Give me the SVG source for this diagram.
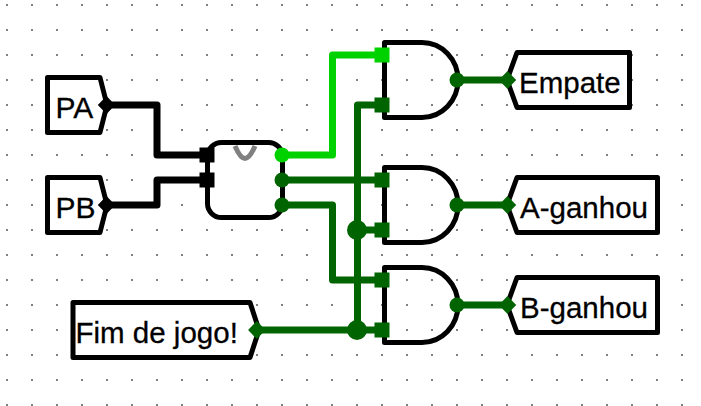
<svg xmlns="http://www.w3.org/2000/svg" width="701" height="406" viewBox="0 0 701 406">
<style>
.box{fill:#fff;stroke:#000;stroke-width:5;stroke-linejoin:round}
.gate{fill:none;stroke:#000;stroke-width:5;stroke-linejoin:round}
.w{fill:none;stroke-width:7;stroke-linejoin:round;stroke-linecap:square}
.k{stroke:#000}.b{stroke:#00d200}.d{stroke:#006400}
.fk{fill:#000}.fb{fill:#00d200}.fd{fill:#006400}
text{font-family:"Liberation Sans",Arial,sans-serif;font-size:29.5px;fill:#000;stroke:#000;stroke-width:.3}
</style>
<defs>
<pattern id="grid" x="6" y="4" width="25" height="25" patternUnits="userSpaceOnUse"><rect width="2" height="2" fill="#808080"/></pattern>
<rect id="pin" x="-7.5" y="-7.5" width="15" height="15"/>
<path id="dia" d="M-8.7 0L0 -9L8.7 0L0 9Z"/>
</defs>
<rect width="701" height="406" fill="#fff"/>
<rect id="dots" width="701" height="406" fill="url(#grid)"/>
<g id="PA"><path class="box" d="M47.5 77.5H100L107 105L100 132.5H47.5Z"/><text x="55.5" y="117.5" style="font-size:30px">PA</text></g>
<g id="PB"><path class="box" d="M47.5 177.5H100L107 205L100 232.5H47.5Z"/><text x="55.5" y="217.5" style="font-size:30px">PB</text></g>
<g id="Fim"><path class="box" d="M73 302.5H250L259 330L250 357.5H73Z"/><text x="75.5" y="342.5">Fim de jogo!</text></g>
<g id="Empate"><path class="box" d="M517 52.5H629.5V107.5H517L507 80Z"/><text x="519" y="92.5">Empate</text></g>
<g id="A-ganhou"><path class="box" d="M517 177.5H657.5V232.5H517L507 205Z"/><text x="520" y="217.5">A-ganhou</text></g>
<g id="B-ganhou"><path class="box" d="M517 277.5H657.5V332.5H517L507 305Z"/><text x="520" y="317.5">B-ganhou</text></g>
<g id="comparator"><rect class="box" x="207.5" y="142.5" width="75" height="75" rx="14"/><path d="M235 146C238 153 241 158.5 245 158.5C249 158.5 252 153 255 146" fill="none" stroke="#808080" stroke-width="5"/></g>
<g id="and1"><path class="gate" d="M422 42.5H384.5V117.5H422A36 37.5 0 0 0 422 42.5Z"/></g>
<g id="and2"><path class="gate" d="M422 167.5H384.5V242.5H422A36 37.5 0 0 0 422 167.5Z"/></g>
<g id="and3"><path class="gate" d="M422 267.5H384.5V342.5H422A36 37.5 0 0 0 422 267.5Z"/></g>
<g id="connectors">
<path class="w k" d="M107 105H157V155H205"/>
<path class="w k" d="M107 205H157V180H205"/>
<path class="w b" d="M282 155H332.5V55H382"/>
<path class="w d" d="M282 180H382"/>
<path class="w d" d="M282 205H332.5V280H382"/>
<path class="w d" d="M382 105H357.5V330"/>
<path class="w d" d="M357 230H382"/>
<path class="w d" d="M257 330H382"/>
<path class="w d" d="M457 80H507"/>
<path class="w d" d="M457 205H507"/>
<path class="w d" d="M457 305H507"/>
<circle class="fd" cx="357" cy="230" r="10"/>
<circle class="fd" cx="357" cy="330" r="10"/>
</g>
<g id="ports">
<use href="#pin" x="207" y="155" class="fk"/>
<use href="#pin" x="207" y="180" class="fk"/>
<circle cx="282" cy="155" r="7.5" class="fb"/>
<circle cx="282" cy="180" r="7.5" class="fd"/>
<circle cx="282" cy="205" r="7.5" class="fd"/>
<use href="#pin" x="382" y="55" class="fb"/>
<use href="#pin" x="382" y="105" class="fd"/>
<use href="#pin" x="382" y="180" class="fd"/>
<use href="#pin" x="382" y="230" class="fd"/>
<use href="#pin" x="382" y="280" class="fd"/>
<use href="#pin" x="382" y="330" class="fd"/>
<circle cx="457" cy="80" r="7.5" class="fd"/>
<circle cx="457" cy="205" r="7.5" class="fd"/>
<circle cx="457" cy="305" r="7.5" class="fd"/>
<use href="#dia" x="106.5" y="105" class="fk"/>
<use href="#dia" x="106.5" y="205" class="fk"/>
<use href="#dia" x="256.8" y="330" class="fd"/>
<use href="#dia" x="507.5" y="80" class="fd"/>
<use href="#dia" x="507.5" y="205" class="fd"/>
<use href="#dia" x="507.5" y="305" class="fd"/>
</g>
</svg>
